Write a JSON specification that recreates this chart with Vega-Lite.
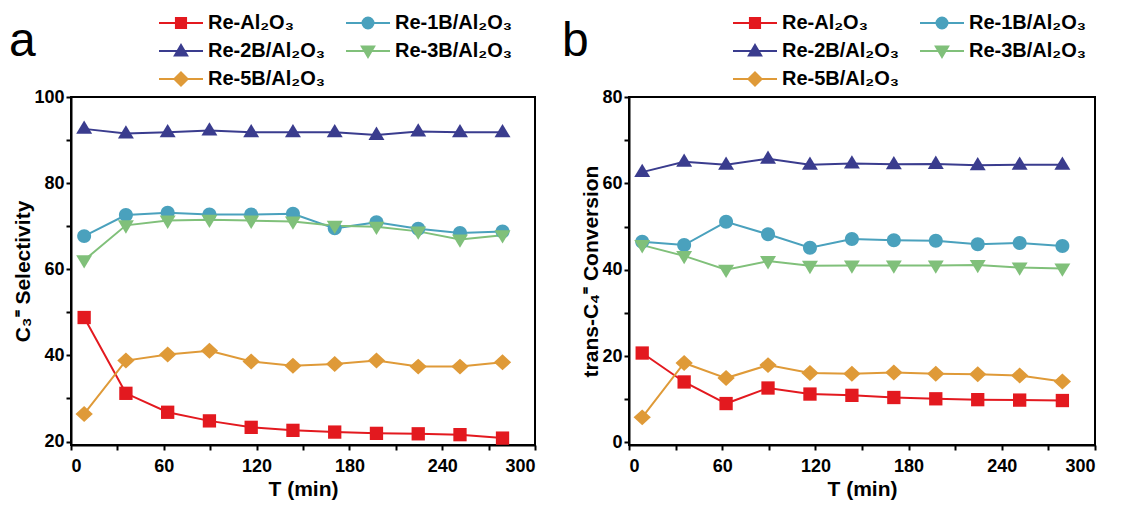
{
  "$schema": "https://vega.github.io/schema/vega-lite/v6.json",
  "background": "white",
  "padding": {"left": 7, "top": 11, "right": 3, "bottom": 5},
  "config": {
    "view": {"stroke": "black", "strokeWidth": 2},
    "font": "Liberation Sans",
    "axis": {"labelFont": "Liberation Sans", "labelFontWeight": "bold", "labelFontSize": 18, "labelColor": "black", "titleFont": "Liberation Sans", "titleFontWeight": "bold", "titleFontSize": 21, "titleColor": "black", "domainColor": "black", "domainWidth": 2, "tickColor": "black", "tickWidth": 2, "tickSize": 5, "grid": false, "labelPadding": 2, "titlePadding": 0},
    "axisX": {"labelPadding": 7, "titlePadding": 3},
    "legend": {"title": null, "columns": 2, "direction": "horizontal", "symbolSize": 1936, "symbolStrokeWidth": 2, "labelFont": "Liberation Sans", "labelFontSize": 20, "labelFontWeight": "bold", "labelColor": "black", "labelOffset": 4, "columnPadding": 19, "rowPadding": 6, "clipHeight": 22, "padding": 0, "labelLimit": 300},
    "concat": {"spacing": 23},
    "title": {"font": "Liberation Sans", "fontSize": 48, "fontWeight": "normal", "color": "black", "anchor": "start"}
  },
  "datasets": {
    "a": [
      {"T": 8.5, "s": "Re-Al₂O₃", "v": 48.8}, {"T": 35.5, "s": "Re-Al₂O₃", "v": 31.2}, {"T": 62.5, "s": "Re-Al₂O₃", "v": 26.8}, {"T": 89.5, "s": "Re-Al₂O₃", "v": 24.8}, {"T": 116.5, "s": "Re-Al₂O₃", "v": 23.3}, {"T": 143.5, "s": "Re-Al₂O₃", "v": 22.6}, {"T": 170.5, "s": "Re-Al₂O₃", "v": 22.2}, {"T": 197.5, "s": "Re-Al₂O₃", "v": 21.9}, {"T": 224.5, "s": "Re-Al₂O₃", "v": 21.8}, {"T": 251.5, "s": "Re-Al₂O₃", "v": 21.6}, {"T": 279, "s": "Re-Al₂O₃", "v": 20.8},
      {"T": 8.5, "s": "Re-1B/Al₂O₃", "v": 67.7}, {"T": 35.5, "s": "Re-1B/Al₂O₃", "v": 72.6}, {"T": 62.5, "s": "Re-1B/Al₂O₃", "v": 73.1}, {"T": 89.5, "s": "Re-1B/Al₂O₃", "v": 72.7}, {"T": 116.5, "s": "Re-1B/Al₂O₃", "v": 72.7}, {"T": 143.5, "s": "Re-1B/Al₂O₃", "v": 72.9}, {"T": 170.5, "s": "Re-1B/Al₂O₃", "v": 69.5}, {"T": 197.5, "s": "Re-1B/Al₂O₃", "v": 70.9}, {"T": 224.5, "s": "Re-1B/Al₂O₃", "v": 69.4}, {"T": 251.5, "s": "Re-1B/Al₂O₃", "v": 68.4}, {"T": 279, "s": "Re-1B/Al₂O₃", "v": 68.8},
      {"T": 8.5, "s": "Re-2B/Al₂O₃", "v": 92.6}, {"T": 35.5, "s": "Re-2B/Al₂O₃", "v": 91.5}, {"T": 62.5, "s": "Re-2B/Al₂O₃", "v": 91.8}, {"T": 89.5, "s": "Re-2B/Al₂O₃", "v": 92.2}, {"T": 116.5, "s": "Re-2B/Al₂O₃", "v": 91.8}, {"T": 143.5, "s": "Re-2B/Al₂O₃", "v": 91.8}, {"T": 170.5, "s": "Re-2B/Al₂O₃", "v": 91.8}, {"T": 197.5, "s": "Re-2B/Al₂O₃", "v": 91.2}, {"T": 224.5, "s": "Re-2B/Al₂O₃", "v": 92.0}, {"T": 251.5, "s": "Re-2B/Al₂O₃", "v": 91.8}, {"T": 279, "s": "Re-2B/Al₂O₃", "v": 91.8},
      {"T": 8.5, "s": "Re-3B/Al₂O₃", "v": 62.1}, {"T": 35.5, "s": "Re-3B/Al₂O₃", "v": 70.2}, {"T": 62.5, "s": "Re-3B/Al₂O₃", "v": 71.3}, {"T": 89.5, "s": "Re-3B/Al₂O₃", "v": 71.5}, {"T": 116.5, "s": "Re-3B/Al₂O₃", "v": 71.3}, {"T": 143.5, "s": "Re-3B/Al₂O₃", "v": 71.1}, {"T": 170.5, "s": "Re-3B/Al₂O₃", "v": 70.1}, {"T": 197.5, "s": "Re-3B/Al₂O₃", "v": 69.9}, {"T": 224.5, "s": "Re-3B/Al₂O₃", "v": 68.8}, {"T": 251.5, "s": "Re-3B/Al₂O₃", "v": 66.9}, {"T": 279, "s": "Re-3B/Al₂O₃", "v": 67.9},
      {"T": 8.5, "s": "Re-5B/Al₂O₃", "v": 26.4}, {"T": 35.5, "s": "Re-5B/Al₂O₃", "v": 38.8}, {"T": 62.5, "s": "Re-5B/Al₂O₃", "v": 40.2}, {"T": 89.5, "s": "Re-5B/Al₂O₃", "v": 41.1}, {"T": 116.5, "s": "Re-5B/Al₂O₃", "v": 38.6}, {"T": 143.5, "s": "Re-5B/Al₂O₃", "v": 37.6}, {"T": 170.5, "s": "Re-5B/Al₂O₃", "v": 38.0}, {"T": 197.5, "s": "Re-5B/Al₂O₃", "v": 38.8}, {"T": 224.5, "s": "Re-5B/Al₂O₃", "v": 37.4}, {"T": 251.5, "s": "Re-5B/Al₂O₃", "v": 37.4}, {"T": 279, "s": "Re-5B/Al₂O₃", "v": 38.4}
    ],
    "b": [
      {"T": 8.5, "s": "Re-Al₂O₃", "v": 20.7}, {"T": 35.5, "s": "Re-Al₂O₃", "v": 14.0}, {"T": 62.5, "s": "Re-Al₂O₃", "v": 9.0}, {"T": 89.5, "s": "Re-Al₂O₃", "v": 12.6}, {"T": 116.5, "s": "Re-Al₂O₃", "v": 11.2}, {"T": 143.5, "s": "Re-Al₂O₃", "v": 10.9}, {"T": 170.5, "s": "Re-Al₂O₃", "v": 10.4}, {"T": 197.5, "s": "Re-Al₂O₃", "v": 10.1}, {"T": 224.5, "s": "Re-Al₂O₃", "v": 9.9}, {"T": 251.5, "s": "Re-Al₂O₃", "v": 9.8}, {"T": 279, "s": "Re-Al₂O₃", "v": 9.7},
      {"T": 8.5, "s": "Re-1B/Al₂O₃", "v": 46.5}, {"T": 35.5, "s": "Re-1B/Al₂O₃", "v": 45.7}, {"T": 62.5, "s": "Re-1B/Al₂O₃", "v": 51.1}, {"T": 89.5, "s": "Re-1B/Al₂O₃", "v": 48.2}, {"T": 116.5, "s": "Re-1B/Al₂O₃", "v": 45.1}, {"T": 143.5, "s": "Re-1B/Al₂O₃", "v": 47.1}, {"T": 170.5, "s": "Re-1B/Al₂O₃", "v": 46.8}, {"T": 197.5, "s": "Re-1B/Al₂O₃", "v": 46.7}, {"T": 224.5, "s": "Re-1B/Al₂O₃", "v": 45.9}, {"T": 251.5, "s": "Re-1B/Al₂O₃", "v": 46.2}, {"T": 279, "s": "Re-1B/Al₂O₃", "v": 45.5},
      {"T": 8.5, "s": "Re-2B/Al₂O₃", "v": 62.6}, {"T": 35.5, "s": "Re-2B/Al₂O₃", "v": 65.0}, {"T": 62.5, "s": "Re-2B/Al₂O₃", "v": 64.3}, {"T": 89.5, "s": "Re-2B/Al₂O₃", "v": 65.7}, {"T": 116.5, "s": "Re-2B/Al₂O₃", "v": 64.3}, {"T": 143.5, "s": "Re-2B/Al₂O₃", "v": 64.6}, {"T": 170.5, "s": "Re-2B/Al₂O₃", "v": 64.4}, {"T": 197.5, "s": "Re-2B/Al₂O₃", "v": 64.5}, {"T": 224.5, "s": "Re-2B/Al₂O₃", "v": 64.2}, {"T": 251.5, "s": "Re-2B/Al₂O₃", "v": 64.3}, {"T": 279, "s": "Re-2B/Al₂O₃", "v": 64.3},
      {"T": 8.5, "s": "Re-3B/Al₂O₃", "v": 45.7}, {"T": 35.5, "s": "Re-3B/Al₂O₃", "v": 43.2}, {"T": 62.5, "s": "Re-3B/Al₂O₃", "v": 40.0}, {"T": 89.5, "s": "Re-3B/Al₂O₃", "v": 42.0}, {"T": 116.5, "s": "Re-3B/Al₂O₃", "v": 40.9}, {"T": 143.5, "s": "Re-3B/Al₂O₃", "v": 41.0}, {"T": 170.5, "s": "Re-3B/Al₂O₃", "v": 41.0}, {"T": 197.5, "s": "Re-3B/Al₂O₃", "v": 41.0}, {"T": 224.5, "s": "Re-3B/Al₂O₃", "v": 41.1}, {"T": 251.5, "s": "Re-3B/Al₂O₃", "v": 40.5}, {"T": 279, "s": "Re-3B/Al₂O₃", "v": 40.3},
      {"T": 8.5, "s": "Re-5B/Al₂O₃", "v": 5.8}, {"T": 35.5, "s": "Re-5B/Al₂O₃", "v": 18.4}, {"T": 62.5, "s": "Re-5B/Al₂O₃", "v": 14.9}, {"T": 89.5, "s": "Re-5B/Al₂O₃", "v": 17.9}, {"T": 116.5, "s": "Re-5B/Al₂O₃", "v": 16.1}, {"T": 143.5, "s": "Re-5B/Al₂O₃", "v": 15.9}, {"T": 170.5, "s": "Re-5B/Al₂O₃", "v": 16.2}, {"T": 197.5, "s": "Re-5B/Al₂O₃", "v": 15.9}, {"T": 224.5, "s": "Re-5B/Al₂O₃", "v": 15.8}, {"T": 251.5, "s": "Re-5B/Al₂O₃", "v": 15.5}, {"T": 279, "s": "Re-5B/Al₂O₃", "v": 14.1}
    ]
  },
  "hconcat": [
    {
      "width": 464, "height": 348,
      "data": {"name": "a"},
      "title": {"text": "a", "dx": -4, "dy": 58},
      "layer": [
        {"mark": {"type": "line", "strokeWidth": 2},
         "encoding": {
           "x": {"field": "T", "type": "quantitative", "title": "T (min)", "scale": {"domain": [0, 300], "nice": false}, "axis": {"values": [0,30,60,90,120,150,180,210,240,270,300], "labelExpr": "datum.value % 60 === 0 ? datum.label : ''"}},
           "y": {"field": "v", "type": "quantitative", "title": "C₃⁼ Selectivity", "scale": {"domain": [19.2, 100], "nice": false, "zero": false}, "axis": {"values": [20,30,40,50,60,70,80,90,100], "labelExpr": "datum.value % 20 === 0 ? datum.label : ''"}},
           "color": {"field": "s", "type": "nominal", "scale": {"domain": ["Re-Al₂O₃","Re-1B/Al₂O₃","Re-2B/Al₂O₃","Re-3B/Al₂O₃","Re-5B/Al₂O₃"], "range": ["#e3191f","#4aa1bd","#3a3c8e","#80c07a","#df9a38"]}, "legend": null}
         }},
        {"mark": {"type": "point", "filled": true, "size": 177, "opacity": 1},
         "encoding": {
           "x": {"field": "T", "type": "quantitative"},
           "y": {"field": "v", "type": "quantitative"},
           "color": {"field": "s", "type": "nominal", "legend": null},
           "shape": {"field": "s", "type": "nominal", "scale": {"domain": ["Re-Al₂O₃","Re-1B/Al₂O₃","Re-2B/Al₂O₃","Re-3B/Al₂O₃","Re-5B/Al₂O₃"], "range": ["square","M-1.05,0A1.05,1.05,0,1,0,1.05,0A1.05,1.05,0,1,0,-1.05,0Z","M0,-1.25L1.2,0.75H-1.2Z","M0,1.25L1.2,-0.75H-1.2Z","M0,-1.2L1.3,0L0,1.2L-1.3,0Z"]}, "legend": null}
         }},
        {"transform": [{"filter": "datum.T < 0"}],
         "mark": {"type": "point", "filled": true, "opacity": 1},
         "encoding": {
           "x": {"field": "T", "type": "quantitative"},
           "y": {"field": "v", "type": "quantitative"},
           "fill": {"field": "s", "type": "nominal", "scale": {"domain": ["Re-Al₂O₃","Re-1B/Al₂O₃","Re-2B/Al₂O₃","Re-3B/Al₂O₃","Re-5B/Al₂O₃"], "range": ["#e3191f","#4aa1bd","#3a3c8e","#80c07a","#df9a38"]}, "legend": {"title": null, "orient": "none", "legendX": 87, "legendY": -85}},
           "stroke": {"field": "s", "type": "nominal", "scale": {"domain": ["Re-Al₂O₃","Re-1B/Al₂O₃","Re-2B/Al₂O₃","Re-3B/Al₂O₃","Re-5B/Al₂O₃"], "range": ["#e3191f","#4aa1bd","#3a3c8e","#80c07a","#df9a38"]}, "legend": {"title": null, "orient": "none", "legendX": 87, "legendY": -85}},
           "shape": {"field": "s", "type": "nominal", "scale": {"domain": ["Re-Al₂O₃","Re-1B/Al₂O₃","Re-2B/Al₂O₃","Re-3B/Al₂O₃","Re-5B/Al₂O₃"], "range": ["M-1,0H1M-0.23,-0.23H0.23V0.23H-0.23Z","M-1,0H1M-0.25,0A0.25,0.25,0,1,0,0.25,0A0.25,0.25,0,1,0,-0.25,0Z","M-1,0H1M0,-0.27L0.28,0.2H-0.28Z","M-1,0H1M0,0.27L0.28,-0.2H-0.28Z","M-1,0H1M0,-0.3L0.3,0L0,0.3L-0.3,0Z"]}, "legend": {"title": null, "orient": "none", "legendX": 87, "legendY": -85}}
         }}
      ],
      "resolve": {"scale": {"shape": "independent", "fill": "independent", "stroke": "independent"}}
    },
    {
      "width": 466, "height": 348,
      "data": {"name": "b"},
      "title": {"text": "b", "dx": -19, "dy": 58},
      "layer": [
        {"mark": {"type": "line", "strokeWidth": 2},
         "encoding": {
           "x": {"field": "T", "type": "quantitative", "title": "T (min)", "scale": {"domain": [0, 300], "nice": false}, "axis": {"values": [0,30,60,90,120,150,180,210,240,270,300], "labelExpr": "datum.value % 60 === 0 ? datum.label : ''"}},
           "y": {"field": "v", "type": "quantitative", "title": "trans-C₄⁼ Conversion", "scale": {"domain": [-0.6, 80], "nice": false, "zero": false}, "axis": {"values": [0,10,20,30,40,50,60,70,80], "labelExpr": "datum.value % 20 === 0 ? datum.label : ''"}},
           "color": {"field": "s", "type": "nominal", "scale": {"domain": ["Re-Al₂O₃","Re-1B/Al₂O₃","Re-2B/Al₂O₃","Re-3B/Al₂O₃","Re-5B/Al₂O₃"], "range": ["#e3191f","#4aa1bd","#3a3c8e","#80c07a","#df9a38"]}, "legend": null}
         }},
        {"mark": {"type": "point", "filled": true, "size": 177, "opacity": 1},
         "encoding": {
           "x": {"field": "T", "type": "quantitative"},
           "y": {"field": "v", "type": "quantitative"},
           "color": {"field": "s", "type": "nominal", "legend": null},
           "shape": {"field": "s", "type": "nominal", "scale": {"domain": ["Re-Al₂O₃","Re-1B/Al₂O₃","Re-2B/Al₂O₃","Re-3B/Al₂O₃","Re-5B/Al₂O₃"], "range": ["square","M-1.05,0A1.05,1.05,0,1,0,1.05,0A1.05,1.05,0,1,0,-1.05,0Z","M0,-1.25L1.2,0.75H-1.2Z","M0,1.25L1.2,-0.75H-1.2Z","M0,-1.2L1.3,0L0,1.2L-1.3,0Z"]}, "legend": null}
         }},
        {"transform": [{"filter": "datum.T < 0"}],
         "mark": {"type": "point", "filled": true, "opacity": 1},
         "encoding": {
           "x": {"field": "T", "type": "quantitative"},
           "y": {"field": "v", "type": "quantitative"},
           "fill": {"field": "s", "type": "nominal", "scale": {"domain": ["Re-Al₂O₃","Re-1B/Al₂O₃","Re-2B/Al₂O₃","Re-3B/Al₂O₃","Re-5B/Al₂O₃"], "range": ["#e3191f","#4aa1bd","#3a3c8e","#80c07a","#df9a38"]}, "legend": {"title": null, "orient": "none", "legendX": 103, "legendY": -85}},
           "stroke": {"field": "s", "type": "nominal", "scale": {"domain": ["Re-Al₂O₃","Re-1B/Al₂O₃","Re-2B/Al₂O₃","Re-3B/Al₂O₃","Re-5B/Al₂O₃"], "range": ["#e3191f","#4aa1bd","#3a3c8e","#80c07a","#df9a38"]}, "legend": {"title": null, "orient": "none", "legendX": 103, "legendY": -85}},
           "shape": {"field": "s", "type": "nominal", "scale": {"domain": ["Re-Al₂O₃","Re-1B/Al₂O₃","Re-2B/Al₂O₃","Re-3B/Al₂O₃","Re-5B/Al₂O₃"], "range": ["M-1,0H1M-0.23,-0.23H0.23V0.23H-0.23Z","M-1,0H1M-0.25,0A0.25,0.25,0,1,0,0.25,0A0.25,0.25,0,1,0,-0.25,0Z","M-1,0H1M0,-0.27L0.28,0.2H-0.28Z","M-1,0H1M0,0.27L0.28,-0.2H-0.28Z","M-1,0H1M0,-0.3L0.3,0L0,0.3L-0.3,0Z"]}, "legend": {"title": null, "orient": "none", "legendX": 103, "legendY": -85}}
         }}
      ],
      "resolve": {"scale": {"shape": "independent", "fill": "independent", "stroke": "independent"}}
    }
  ],
  "resolve": {"scale": {"color": "independent", "shape": "independent", "fill": "independent", "stroke": "independent"}}
}
